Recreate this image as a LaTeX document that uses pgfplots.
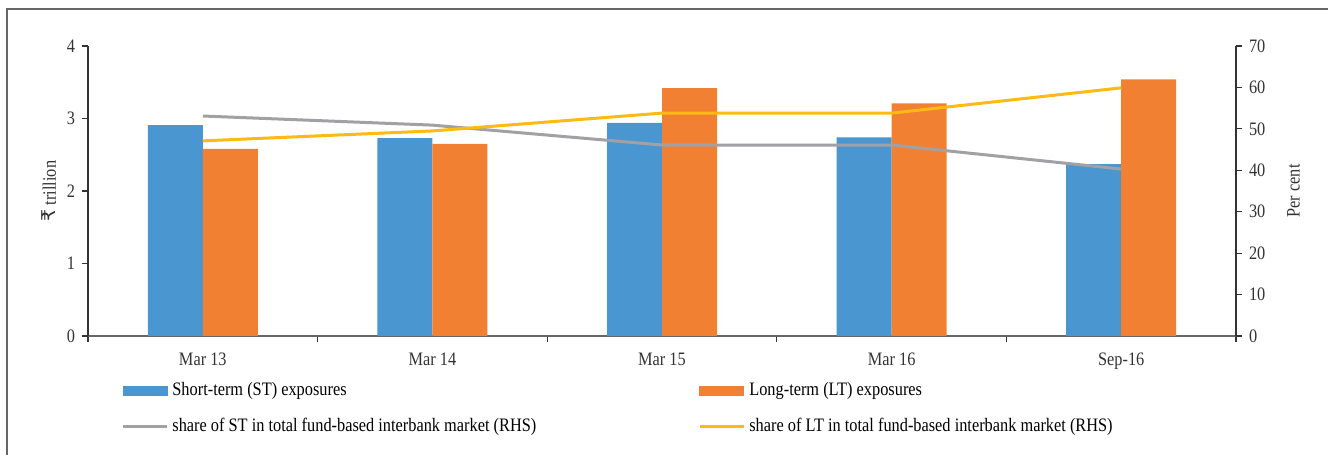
\documentclass[border=0pt]{standalone}
\usepackage{fontspec}
\setmainfont{Liberation Serif}[FakeStretch=0.86]
\newfontfamily\rupeefont{DejaVu Sans}
\usepackage{pgfplots}
\pgfplotsset{compat=1.18}
\definecolor{stblue}{HTML}{4A96D0}
\definecolor{ltorange}{HTML}{F28032}
\definecolor{stgray}{HTML}{A0A0A5}
\definecolor{ltyellow}{HTML}{FDBA12}
\definecolor{txt}{HTML}{333333}
\begin{document}
\begin{tikzpicture}[font=\fontsize{9.5}{11.5}\selectfont]
\useasboundingbox (-44pt,-59.5pt) rectangle (620pt,168pt);
\draw[gray!80!black, line width=0.75pt] (-40.5pt,-80pt) rectangle (640pt,163.5pt);
\begin{axis}[
  at={(0pt,0pt)}, anchor=south west,
  scale only axis, width=574pt, height=145pt,
  xmin=-0.5, xmax=4.5, ymin=0, ymax=4,
  axis x line*=bottom, axis y line*=left,
  x axis line style={draw=gray!80!black, line width=0.8pt},
  y axis line style={draw=txt, line width=0.8pt},
  xtick={0,1,2,3,4},
  xticklabels={Mar 13,Mar 14,Mar 15,Mar 16,Sep-16},
  minor xtick={-0.5,0.5,1.5,2.5,3.5,4.5},
  major x tick style={draw=none},
  minor x tick style={draw=txt, line width=0.6pt},
  minor tick length=3pt,
  ytick={0,1,2,3,4},
  major tick length=3pt,
  y tick style={draw=txt, line width=0.6pt},
  tick align=outside,
  /pgf/number format/assume math mode=true,
  tick label style={text=txt},
  xticklabel style={yshift=-2pt},
  ylabel={{\rupeefont ₹} trillion},
  ylabel style={text=txt},
  ylabel shift=-1.5pt,
  ybar=0pt, bar width=27.5pt,
  clip=false,
]
\addplot[fill=stblue, draw=none] coordinates {(0,2.91) (1,2.73) (2,2.94) (3,2.74) (4,2.37)};
\addplot[fill=ltorange, draw=none] coordinates {(0,2.58) (1,2.65) (2,3.42) (3,3.21) (4,3.54)};
\end{axis}
\begin{axis}[
  at={(0pt,0pt)}, anchor=south west,
  scale only axis, width=574pt, height=145pt,
  xmin=-0.5, xmax=4.5, ymin=0, ymax=70,
  axis x line=none, axis y line*=right,
  y axis line style={draw=txt, line width=0.8pt},
  ytick={0,10,...,70},
  major tick length=3pt,
  y tick style={draw=txt, line width=0.6pt},
  tick align=outside,
  /pgf/number format/assume math mode=true,
  tick label style={text=txt},
  ylabel={Per cent},
  ylabel style={text=txt},
  ylabel shift=4pt,
  legend columns=2,
  legend style={at={(axis description cs:0,0)}, anchor=north west, xshift=16.5pt, yshift=-21pt,
    draw=none, fill=none, inner sep=0pt, row sep=6pt, text=black,
    nodes={inner sep=2pt},
    /tikz/every even column/.append style={column sep=79pt}},
  legend cell align=left,
  legend image code/.code={\draw[#1] (0pt,0pt) -- (22pt,0pt);},
  clip=false,
]
\addlegendimage{legend image code/.code={\fill[stblue] (0pt,-2.25pt) rectangle (22pt,2.25pt);}}
\addlegendentry{Short-term (ST) exposures}
\addlegendimage{legend image code/.code={\fill[ltorange] (0pt,-2.25pt) rectangle (22pt,2.25pt);}}
\addlegendentry{Long-term (LT) exposures}
\addplot[stgray, line width=1.5pt] coordinates {(0,53.1) (1,50.9) (2,46.1) (3,46.1) (4,40.3)};
\addlegendentry{share of ST in total fund-based interbank market (RHS)}
\addplot[ltyellow, line width=1.5pt] coordinates {(0,47.1) (1,49.5) (2,53.8) (3,53.8) (4,59.9)};
\addlegendentry{share of LT in total fund-based interbank market (RHS)}
\end{axis}
\end{tikzpicture}
\end{document}
